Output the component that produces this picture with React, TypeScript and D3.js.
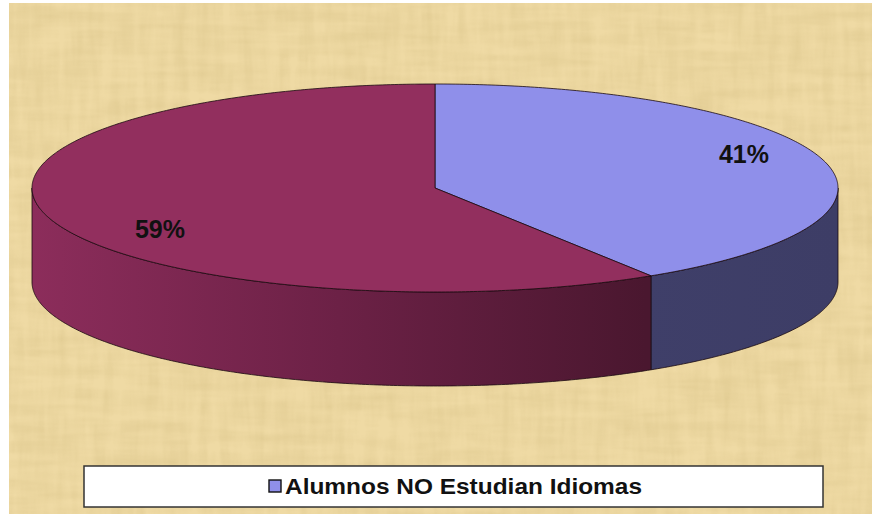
import React from "react";
import * as d3 from "d3";

const categories = ["Alumnos NO Estudian Idiomas", "Alumnos Estudian Idiomas"];
const values = [41, 59];
const labels = ["41%", "59%"];
const legendItems = ["Alumnos NO Estudian Idiomas"];

const W = 872;
const H = 516;

export default function App() {
  const cx = 435, cy = 188, rx = 403, ry = 104, depth = 94;
  const topColors = ["#8F8FEA", "#922F5E"];

  const pie = d3.pie<number>().sort(null).startAngle(0).endAngle(2 * Math.PI);
  const arcs = pie(values);

  const pt = (a: number, dy = 0) => [cx + rx * Math.sin(a), cy - ry * Math.cos(a) + dy];

  const ellArc = (a0: number, a1: number, dy = 0) => {
    const n = Math.max(2, Math.ceil(Math.abs(a1 - a0) / 0.01));
    const pts: number[][] = [];
    for (let i = 0; i <= n; i++) pts.push(pt(a0 + ((a1 - a0) * i) / n, dy));
    return pts;
  };

  const line = d3.line();

  const topPath = (a0: number, a1: number) => {
    const pts = [[cx, cy], ...ellArc(a0, a1)];
    return line(pts as [number, number][]) + "Z";
  };

  const sidePath = (a0: number, a1: number) => {
    const s = Math.max(a0, Math.PI / 2);
    const e = Math.min(a1, (3 * Math.PI) / 2);
    if (e <= s) return null;
    const up = ellArc(s, e);
    const down = ellArc(e, s, depth);
    return line([...up, ...down] as [number, number][]) + "Z";
  };

  const sideFills = ["url(#blueSide)", "url(#redSide)"];
  const labelPos = [
    [744, 163],
    [160, 238],
  ];

  return (
    <svg width={W} height={H} style={{ position: "absolute", left: 0, top: 0 }}>
      <defs>
        <filter id="paper" x="0" y="0" width="100%" height="100%">
          <feTurbulence type="fractalNoise" baseFrequency="0.012 0.09" numOctaves="3" seed="3" result="n1" />
          <feTurbulence type="fractalNoise" baseFrequency="0.09 0.012" numOctaves="3" seed="7" result="n2" />
          <feComposite in="n1" in2="n2" operator="arithmetic" k1="0" k2="0.5" k3="0.5" k4="0" result="n" />
          <feColorMatrix
            in="n"
            type="matrix"
            values="0 0 0 0 0.62  0 0 0 0 0.48  0 0 0 0 0.2  1.6 0 0 0 -0.55"
          />
        </filter>
        <linearGradient id="redSide" gradientUnits="userSpaceOnUse" x1={cx - rx} x2={cx + 210} y1="0" y2="0">
          <stop offset="0" stopColor="#8C2D5B" />
          <stop offset="0.5" stopColor="#6C2146" />
          <stop offset="1" stopColor="#4A172F" />
        </linearGradient>
        <linearGradient id="blueSide" gradientUnits="userSpaceOnUse" x1={cx + 207} x2={cx + rx} y1="0" y2="0">
          <stop offset="0" stopColor="#3F3F69" />
          <stop offset="1" stopColor="#3D3D66" />
        </linearGradient>
      </defs>
      <rect x={0} y={0} width={W} height={H} fill="#ffffff" />
      <rect x={9} y={3} width={W - 9} height={511} fill="#EFDAA4" />
      <rect x={9} y={3} width={W - 9} height={511} fill="#EFDAA4" filter="url(#paper)" opacity={0.5} />

      {arcs.map((a, i) => {
        const d = sidePath(a.startAngle, a.endAngle);
        return d ? (
          <path key={"s" + i} d={d} fill={sideFills[i]} stroke="#1a0a10" strokeWidth={0.8} strokeLinejoin="round" />
        ) : null;
      })}
      {arcs.map((a, i) => (
        <path
          key={"t" + i}
          d={topPath(a.startAngle, a.endAngle)}
          fill={topColors[i]}
          stroke="#1a0a10"
          strokeWidth={0.8}
          strokeLinejoin="round"
        />
      ))}
      {labels.map((l, i) => (
        <text
          key={"l" + i}
          x={labelPos[i][0]}
          y={labelPos[i][1]}
          textAnchor="middle"
          fontFamily="Liberation Sans, Arial, sans-serif"
          fontWeight="bold"
          fontSize={25}
          fill="#111"
        >
          {l}
        </text>
      ))}

      <rect x={84} y={466} width={739} height={41} fill="#ffffff" stroke="#333" strokeWidth={1.5} />
      {legendItems.map((t, i) => (
        <g key={"lg" + i}>
          <rect x={269} y={480} width={12} height={12} fill={topColors[0]} stroke="#111" strokeWidth={1.4} />
          <text
            x={285}
            y={494}
            fontFamily="Liberation Sans, Arial, sans-serif"
            fontWeight="bold"
            fontSize={22}
            textLength={357}
            lengthAdjust="spacingAndGlyphs"
            fill="#111"
          >
            {t}
          </text>
        </g>
      ))}
    </svg>
  );
}
